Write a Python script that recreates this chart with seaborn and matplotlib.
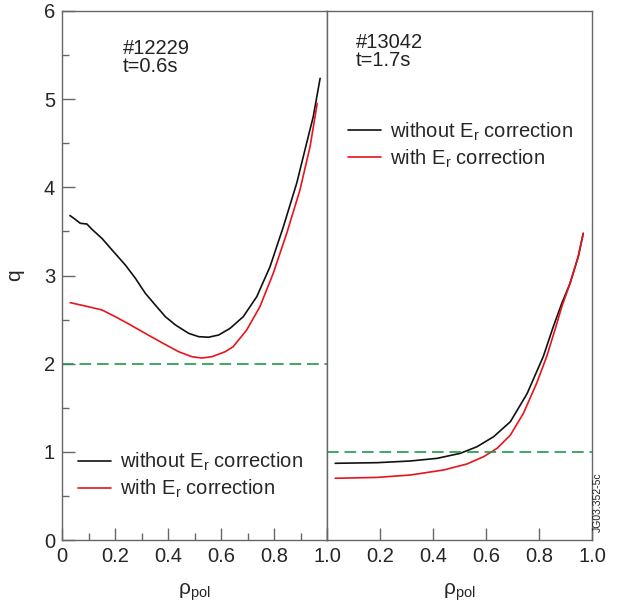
import numpy as np
import pandas as pd
import matplotlib
matplotlib.use("Agg")
import matplotlib.pyplot as plt
import seaborn as sns
from matplotlib.ticker import MultipleLocator

# ---- data ----
# Left panel: #12229, t=0.6s
left_x_without = [0.03, 0.050, 0.069, 0.094, 0.113, 0.151, 0.189, 0.239, 0.277, 0.314, 0.352,
                  0.390, 0.428, 0.478, 0.516, 0.553, 0.591, 0.634, 0.684, 0.735, 0.785,
                  0.835, 0.886, 0.923, 0.948, 0.974]
left_q_without = [3.68, 3.637, 3.592, 3.584, 3.524, 3.42, 3.289, 3.119, 2.968, 2.80, 2.665,
                  2.533, 2.439, 2.344, 2.306, 2.30, 2.325, 2.40, 2.533, 2.76, 3.10,
                  3.55, 4.05, 4.50, 4.80, 5.236]
left_x_with = [0.031, 0.088, 0.151, 0.201, 0.252, 0.314, 0.377, 0.440, 0.490, 0.528, 0.566,
               0.616, 0.646, 0.697, 0.747, 0.797, 0.848, 0.898, 0.936, 0.963]
left_q_with = [2.692, 2.654, 2.609, 2.533, 2.45, 2.344, 2.238, 2.136, 2.079, 2.064, 2.079,
               2.136, 2.193, 2.382, 2.647, 3.024, 3.478, 3.97, 4.461, 4.95]

# Right panel: #13042, t=1.7s
right_x_without = [0.031, 0.189, 0.314, 0.415, 0.503, 0.566, 0.629, 0.692, 0.755, 0.816,
                   0.854, 0.886, 0.917, 0.948, 0.967]
right_q_without = [0.87, 0.877, 0.896, 0.926, 0.983, 1.058, 1.172, 1.342, 1.66, 2.08,
                   2.42, 2.684, 2.91, 3.213, 3.478]
right_x_with = [0.031, 0.189, 0.314, 0.440, 0.528, 0.591, 0.642, 0.692, 0.741, 0.791,
                0.829, 0.860, 0.886, 0.917, 0.948, 0.967]
right_q_with = [0.70, 0.71, 0.737, 0.794, 0.862, 0.945, 1.04, 1.19, 1.436, 1.777,
                2.08, 2.382, 2.646, 2.91, 3.213, 3.478]

series_names = ["without E$_\\mathregular{r}$ correction", "with E$_\\mathregular{r}$ correction"]
shot_labels = ["#12229\nt=0.6s", "#13042\nt=1.7s"]
ref_q = [2, 1]
x_tick_values = [0, 0.2, 0.4, 0.6, 0.8, 1.0]
left_tick_labels = ["0", "0.2", "0.4", "0.6", "0.8", ""]
right_tick_labels = ["1.0", "0.2", "0.4", "0.6", "0.8", "1.0"]
y_ticks = [0, 1, 2, 3, 4, 5, 6]

def frame(xa, qa, xb, qb):
    return pd.concat([
        pd.DataFrame({"rho": xa, "q": qa, "series": series_names[0]}),
        pd.DataFrame({"rho": xb, "q": qb, "series": series_names[1]}),
    ], ignore_index=True)

df_left = frame(left_x_without, left_q_without, left_x_with, left_q_with)
df_right = frame(right_x_without, right_q_without, right_x_with, right_q_with)

# ---- style ----
sns.set_style("ticks")
plt.rcParams["font.family"] = ["Liberation Sans", "DejaVu Sans"]
plt.rcParams["mathtext.fontset"] = "custom"
plt.rcParams["mathtext.rm"] = "Liberation Sans"
plt.rcParams["font.size"] = 14.5

FS = 14.5
spine_col = "#666666"
palette = {series_names[0]: "#111111", series_names[1]: "#e8141c"}
green = "#1f9a48"

fig = plt.figure(figsize=(6.17, 6.06), dpi=100)
ax_l = fig.add_axes([62 / 617, 1 - 540 / 606, 265 / 617, 529 / 606])
ax_r = fig.add_axes([327 / 617, 1 - 540 / 606, 265 / 617, 529 / 606], sharey=ax_l)

for ax, df, rq in [(ax_l, df_left, ref_q[0]), (ax_r, df_right, ref_q[1])]:
    sns.lineplot(data=df, x="rho", y="q", hue="series", palette=palette,
                 sort=False, estimator=None, legend=False, linewidth=1.2, ax=ax)
    ax.axhline(rq, color=green, lw=1.2, linestyle=(0, (7, 3.5)))
    ax.set_xlim(0, 1.0)
    ax.set_ylim(0, 6)
    for s in ax.spines.values():
        s.set_color(spine_col)
        s.set_linewidth(1.0)
    ax.set_xlabel("ρ$_\\mathregular{pol}$", fontsize=15, labelpad=11)
    ax.tick_params(direction="in", which="major", length=9, width=1.0,
                   color=spine_col, labelsize=FS, pad=5)
    ax.tick_params(direction="in", which="minor", length=5, width=1.0, color=spine_col)

ax_l.set_xticks(x_tick_values)
ax_l.set_xticklabels(left_tick_labels)
ax_l.xaxis.set_minor_locator(MultipleLocator(0.1))
ax_l.set_yticks(y_ticks)
ax_l.yaxis.set_minor_locator(MultipleLocator(0.5))
ax_l.set_ylabel("q", fontsize=15, labelpad=14)

ax_r.set_xticks(x_tick_values)
ax_r.set_xticklabels(right_tick_labels)
ax_r.tick_params(axis="y", which="both", left=False, labelleft=False)
ax_r.set_ylabel("")

ax_l.text(0.23, 0.948, shot_labels[0], transform=ax_l.transAxes, ha="left", va="top",
          fontsize=FS, linespacing=0.95, color="#222222")
ax_r.text(0.11, 0.958, shot_labels[1], transform=ax_r.transAxes, ha="left", va="top",
          fontsize=FS, linespacing=0.95, color="#222222")

for ax, anchor in [(ax_l, (0.06, 0.168)), (ax_r, (0.08, 0.793))]:
    handles = ax.get_lines()[:2]
    ax.legend(handles, series_names, loc="upper left", bbox_to_anchor=anchor,
              frameon=False, borderpad=0, borderaxespad=0, handlelength=1.65,
              handletextpad=0.45, labelspacing=0.22, fontsize=FS)

fig.text(0.969, 0.172, "JG03.352-5c", rotation=90, ha="center", va="center",
         fontsize=7.5, color="#222222")

fig.savefig("out.png", dpi=100)
